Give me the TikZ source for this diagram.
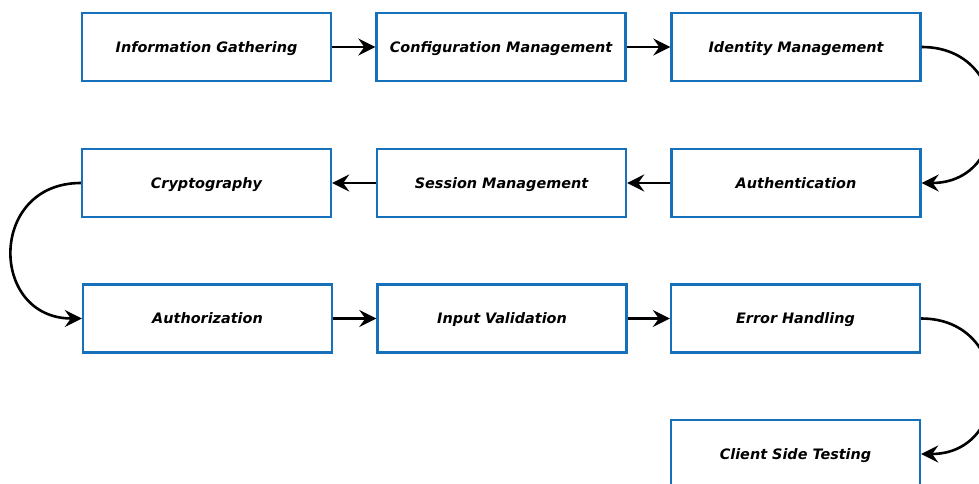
\documentclass[tikz,border=0pt]{standalone}
\definecolor{stageblue}{RGB}{22,112,186}
\usepackage{fontspec}
\newfontfamily\stagefont{DejaVu Sans}
\usepackage{tikz}
\usetikzlibrary{arrows.meta}

\begin{document}
\begin{tikzpicture}[x=1pt,y=-1pt,font=\stagefont\bfseries\itshape\fontsize{14.4}{16}\selectfont,
        stage/.style={draw=stageblue,line width=2.4pt,fill=white,
                      minimum width=249pt,minimum height=68pt,align=center,inner sep=0pt,
                      text height=10.5pt,text depth=0pt},
        arr/.style={-{Stealth[length=17pt,width=17pt,inset=6pt]},line width=2.6pt,black},
        loop/.style={arr,looseness=1.75}]
        \useasboundingbox (0,0) rectangle (979,484);
        \node[stage] (info) at (206.5,47) {Information Gathering};
        \node[stage] (conf) at (501,47) {Configuration Management};
        \node[stage] (iden) at (796,47) {Identity Management};
        \node[stage] (auth) at (796,183) {Authentication};
        \node[stage] (sess) at (501.5,183) {Session Management};
        \node[stage] (cryp) at (206.5,183) {Cryptography};
        \node[stage] (autz) at (207.5,318.5) {Authorization};
        \node[stage] (inpt) at (502,318.5) {Input Validation};
        \node[stage] (errh) at (795.5,318.5) {Error Handling};
        \node[stage] (clnt) at (795.5,454) {Client Side Testing};
        \draw[arr] (info) -- (conf);
        \draw[arr] (conf) -- (iden);
        \draw[loop] (iden.east) to[out=0,in=0] (auth.east);
        \draw[arr] (auth) -- (sess);
        \draw[arr] (sess) -- (cryp);
        \draw[loop] (cryp.west) to[out=180,in=180] (autz.west);
        \draw[arr] (autz) -- (inpt);
        \draw[arr] (inpt) -- (errh);
        \draw[loop] (errh.east) to[out=0,in=0] (clnt.east);
      \end{tikzpicture}
\end{document}
